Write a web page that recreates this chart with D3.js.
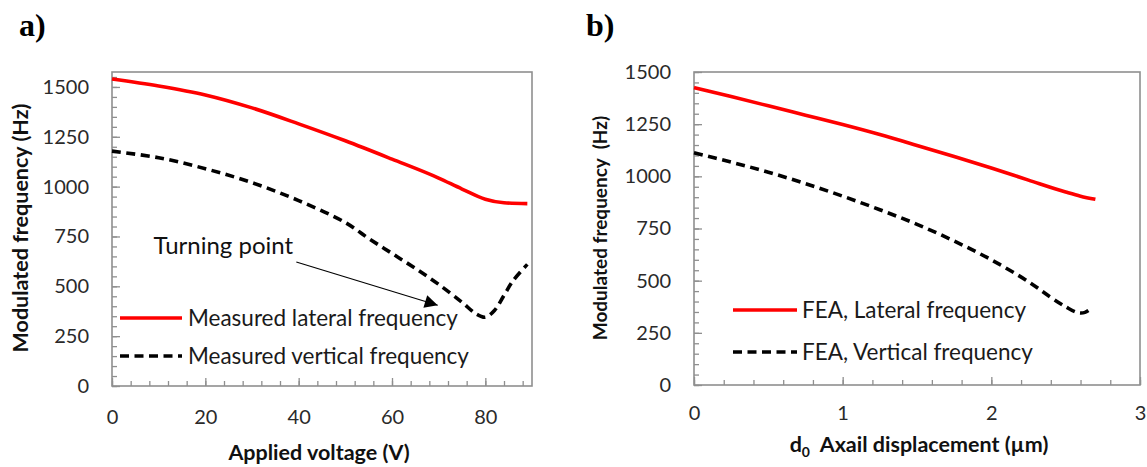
<!DOCTYPE html>
<html><head><meta charset="utf-8">
<script src="https://cdn.jsdelivr.net/npm/d3@7/dist/d3.min.js"></script>
<style>
html,body{margin:0;padding:0;background:#fff;}
svg{display:block;}
text{font-family:Lato,"Open Sans",sans-serif;}
</style></head>
<body>
<svg id="chart" width="1147" height="467"></svg>
<script>
// ---------- Panel a data ----------
const voltageLateral = [0, 10, 20, 30, 40, 50, 60, 70, 75, 80, 84, 89];
const measuredLateral = [1540, 1505, 1460, 1395, 1315, 1230, 1138, 1043, 988, 937, 919, 915];
const voltageVertical = [0, 10, 20, 30, 40, 50, 55, 60, 65, 70, 75, 78, 80, 82, 84, 86, 89];
const measuredVertical = [1178, 1145, 1090, 1020, 930, 820, 740, 665, 590, 510, 420, 362, 345, 380, 455, 530, 610];
const xTicksA = [0, 20, 40, 60, 80];
const yTicksA = [0, 250, 500, 750, 1000, 1250, 1500];

// ---------- Panel b data ----------
const dispLateral = [0, 0.25, 0.5, 0.75, 1.0, 1.25, 1.5, 1.75, 2.0, 2.25, 2.5, 2.6, 2.7];
const feaLateral = [1425, 1382, 1338, 1293, 1248, 1200, 1148, 1095, 1040, 982, 925, 905, 890];
const dispVertical = [0, 0.25, 0.5, 0.75, 1.0, 1.25, 1.5, 1.75, 2.0, 2.25, 2.4, 2.5, 2.58, 2.63, 2.68];
const feaVertical = [1113, 1068, 1020, 965, 905, 840, 770, 690, 600, 495, 420, 375, 347, 348, 372];
const xTicksB = [0, 1, 2, 3];
const yTicksB = [0, 250, 500, 750, 1000, 1250, 1500];

const svg = d3.select("#chart");
const RED = "#ff0000", BLACK = "#000000", AXIS = "#8f8f8f", LABEL = "#2a2a2a";

function panel(opt) {
  const g = svg.append("g");
  const x = d3.scaleLinear().domain(opt.xDomain).range(opt.xRange);
  const y = d3.scaleLinear().domain(opt.yDomain).range(opt.yRange);

  const styleTicks = s => { s.select(".domain").remove(); s.selectAll("line").attr("stroke", AXIS).attr("stroke-width", 1.3); };
  // minor ticks (inside)
  g.append("g").attr("transform", `translate(0,${opt.yRange[0]})`)
    .call(d3.axisBottom(x).tickValues(opt.xMinor).tickSizeInner(-5).tickSizeOuter(0).tickFormat(""))
    .call(styleTicks);
  g.append("g").attr("transform", `translate(${opt.xRange[0]},0)`)
    .call(d3.axisLeft(y).tickValues(opt.yMinor).tickSizeInner(-5).tickSizeOuter(0).tickFormat(""))
    .call(styleTicks);
  // major ticks
  g.append("g").attr("transform", `translate(0,${opt.yRange[0]})`)
    .call(d3.axisBottom(x).tickValues(opt.xTicks).tickSizeInner(-8).tickSizeOuter(0).tickFormat(""))
    .call(styleTicks);
  g.append("g").attr("transform", `translate(${opt.xRange[0]},0)`)
    .call(d3.axisLeft(y).tickValues(opt.yTicks).tickSizeInner(-8).tickSizeOuter(0).tickFormat(""))
    .call(styleTicks);

  // tick labels
  g.append("g").attr("transform", `translate(0,${opt.yRange[0]})`)
    .call(d3.axisBottom(x).tickValues(opt.xTicks).tickSize(0).tickPadding(opt.xPad).tickFormat(d3.format("d")))
    .call(s => { s.select(".domain").remove(); s.selectAll("text").attr("font-size", 20).attr("fill", LABEL).style("font-family", "Lato"); });
  g.append("g").attr("transform", `translate(${opt.xRange[0]},0)`)
    .call(d3.axisLeft(y).tickValues(opt.yTicks).tickSize(0).tickPadding(23).tickFormat(d3.format("d")))
    .call(s => { s.select(".domain").remove(); s.selectAll("text").attr("font-size", 20).attr("fill", LABEL).style("font-family", "Lato"); });

  // frame
  g.append("rect")
    .attr("x", opt.xRange[0]).attr("y", opt.yRange[1])
    .attr("width", opt.xRange[1] - opt.xRange[0]).attr("height", opt.yRange[0] - opt.yRange[1])
    .attr("fill", "none").attr("stroke", AXIS).attr("stroke-width", 1.6);

  const line = d3.line().x(d => x(d[0])).y(d => y(d[1])).curve(d3.curveMonotoneX);
  g.append("path").datum(d3.zip(opt.latX, opt.latY)).attr("d", line)
    .attr("fill", "none").attr("stroke", RED).attr("stroke-width", 3.6);
  g.append("path").datum(d3.zip(opt.verX, opt.verY)).attr("d", line.curve(d3.curveCatmullRom.alpha(0.5)))
    .attr("fill", "none").attr("stroke", BLACK).attr("stroke-width", 3.6).attr("stroke-dasharray", "9,5.5");

  // legend
  const L = opt.legend;
  g.append("line").attr("x1", L.x1).attr("x2", L.x2).attr("y1", L.y1).attr("y2", L.y1)
    .attr("stroke", RED).attr("stroke-width", 3.6);
  g.append("line").attr("x1", L.x1).attr("x2", L.x2).attr("y1", L.y2).attr("y2", L.y2)
    .attr("stroke", BLACK).attr("stroke-width", 3.6).attr("stroke-dasharray", "9,5.5");
  g.append("text").attr("x", L.tx).attr("y", L.y1).attr("dy", "0.35em").attr("font-size", L.fs).attr("fill", "#1a1a1a").text(opt.names[0]);
  g.append("text").attr("x", L.tx).attr("y", L.y2).attr("dy", "0.35em").attr("font-size", L.fs).attr("fill", "#1a1a1a").text(opt.names[1]);

  // axis titles
  const xt = g.append("text").attr("x", (opt.xRange[0] + opt.xRange[1]) / 2 + opt.xTitleShift).attr("y", opt.xTitleY)
    .attr("text-anchor", "middle").attr("font-size", opt.xTitleSize).attr("font-weight", "bold").attr("fill", "#111");
  opt.xTitle(xt);
  g.append("text").attr("transform", `translate(${opt.yTitleX},${opt.yTitleCY}) rotate(-90)`)
    .attr("text-anchor", "middle").attr("dy", "0.35em").attr("font-size", opt.yTitleSize).attr("font-weight", "bold").attr("fill", "#111")
    .text(opt.yTitle);

  // panel label
  g.append("text").attr("x", opt.labelX).attr("y", 36).attr("font-size", 32).attr("font-weight", "bold")
    .style("font-family", "'Liberation Serif','Times New Roman',serif").text(opt.label);
  return {g, x, y};
}

const A = panel({
  xDomain: [0, 90], xRange: [112, 532], yDomain: [0, 1575], yRange: [386, 72],
  xTicks: xTicksA, yTicks: yTicksA,
  xMinor: d3.range(0, 90, 4), yMinor: d3.range(0, 1575, 50),
  xPad: 24,
  latX: voltageLateral, latY: measuredLateral, verX: voltageVertical, verY: measuredVertical,
  names: ["Measured lateral frequency", "Measured vertical frequency"],
  legend: {x1: 120, x2: 182, tx: 188, y1: 318, y2: 356, fs: 22.5},
  xTitle: t => t.text("Applied voltage (V)"), xTitleShift: -3, xTitleY: 460, xTitleSize: 21.5,
  yTitle: "Modulated frequency (Hz)", yTitleX: 20, yTitleCY: 228, yTitleSize: 21.5,
  label: "a)", labelX: 19
});

// annotation: turning point
svg.append("defs").append("marker").attr("id", "arrow").attr("viewBox", "0 0 10 10")
  .attr("refX", 10).attr("refY", 5).attr("markerWidth", 15).attr("markerHeight", 13)
  .attr("markerUnits", "userSpaceOnUse").attr("orient", "auto")
  .append("path").attr("d", "M0,0 L10,5 L0,10 Z").attr("fill", "#000");
A.g.append("line")
  .attr("x1", A.x(39.5)).attr("y1", A.y(622)).attr("x2", A.x(69.8)).attr("y2", A.y(405))
  .attr("stroke", "#000").attr("stroke-width", 1.2).attr("marker-end", "url(#arrow)");
A.g.append("text").attr("x", A.x(8.9)).attr("y", A.y(660)).attr("font-size", 24).attr("fill", "#111").text("Turning point");

const B = panel({
  xDomain: [0, 3], xRange: [694, 1140], yDomain: [0, 1500], yRange: [385, 72],
  xTicks: xTicksB, yTicks: yTicksB,
  xMinor: d3.range(0, 3.01, 0.2), yMinor: d3.range(0, 1501, 50),
  xPad: 21,
  latX: dispLateral, latY: feaLateral, verX: dispVertical, verY: feaVertical,
  names: ["FEA, Lateral frequency", "FEA, Vertical frequency"],
  legend: {x1: 733, x2: 797, tx: 802, y1: 310, y2: 352, fs: 22.5},
  xTitle: t => {
    t.append("tspan").text("d");
    t.append("tspan").attr("font-size", 14).attr("dy", 5).text("0");
    t.append("tspan").attr("dy", -5).text("\u00a0\u00a0Axail displacement (\u00b5m)");
  }, xTitleShift: 2, xTitleY: 452, xTitleSize: 21.5,
  yTitle: "Modulated frequency\u00a0\u00a0(Hz)", yTitleX: 600, yTitleCY: 228, yTitleSize: 19,
  label: "b)", labelX: 586
});
</script>
</body></html>
